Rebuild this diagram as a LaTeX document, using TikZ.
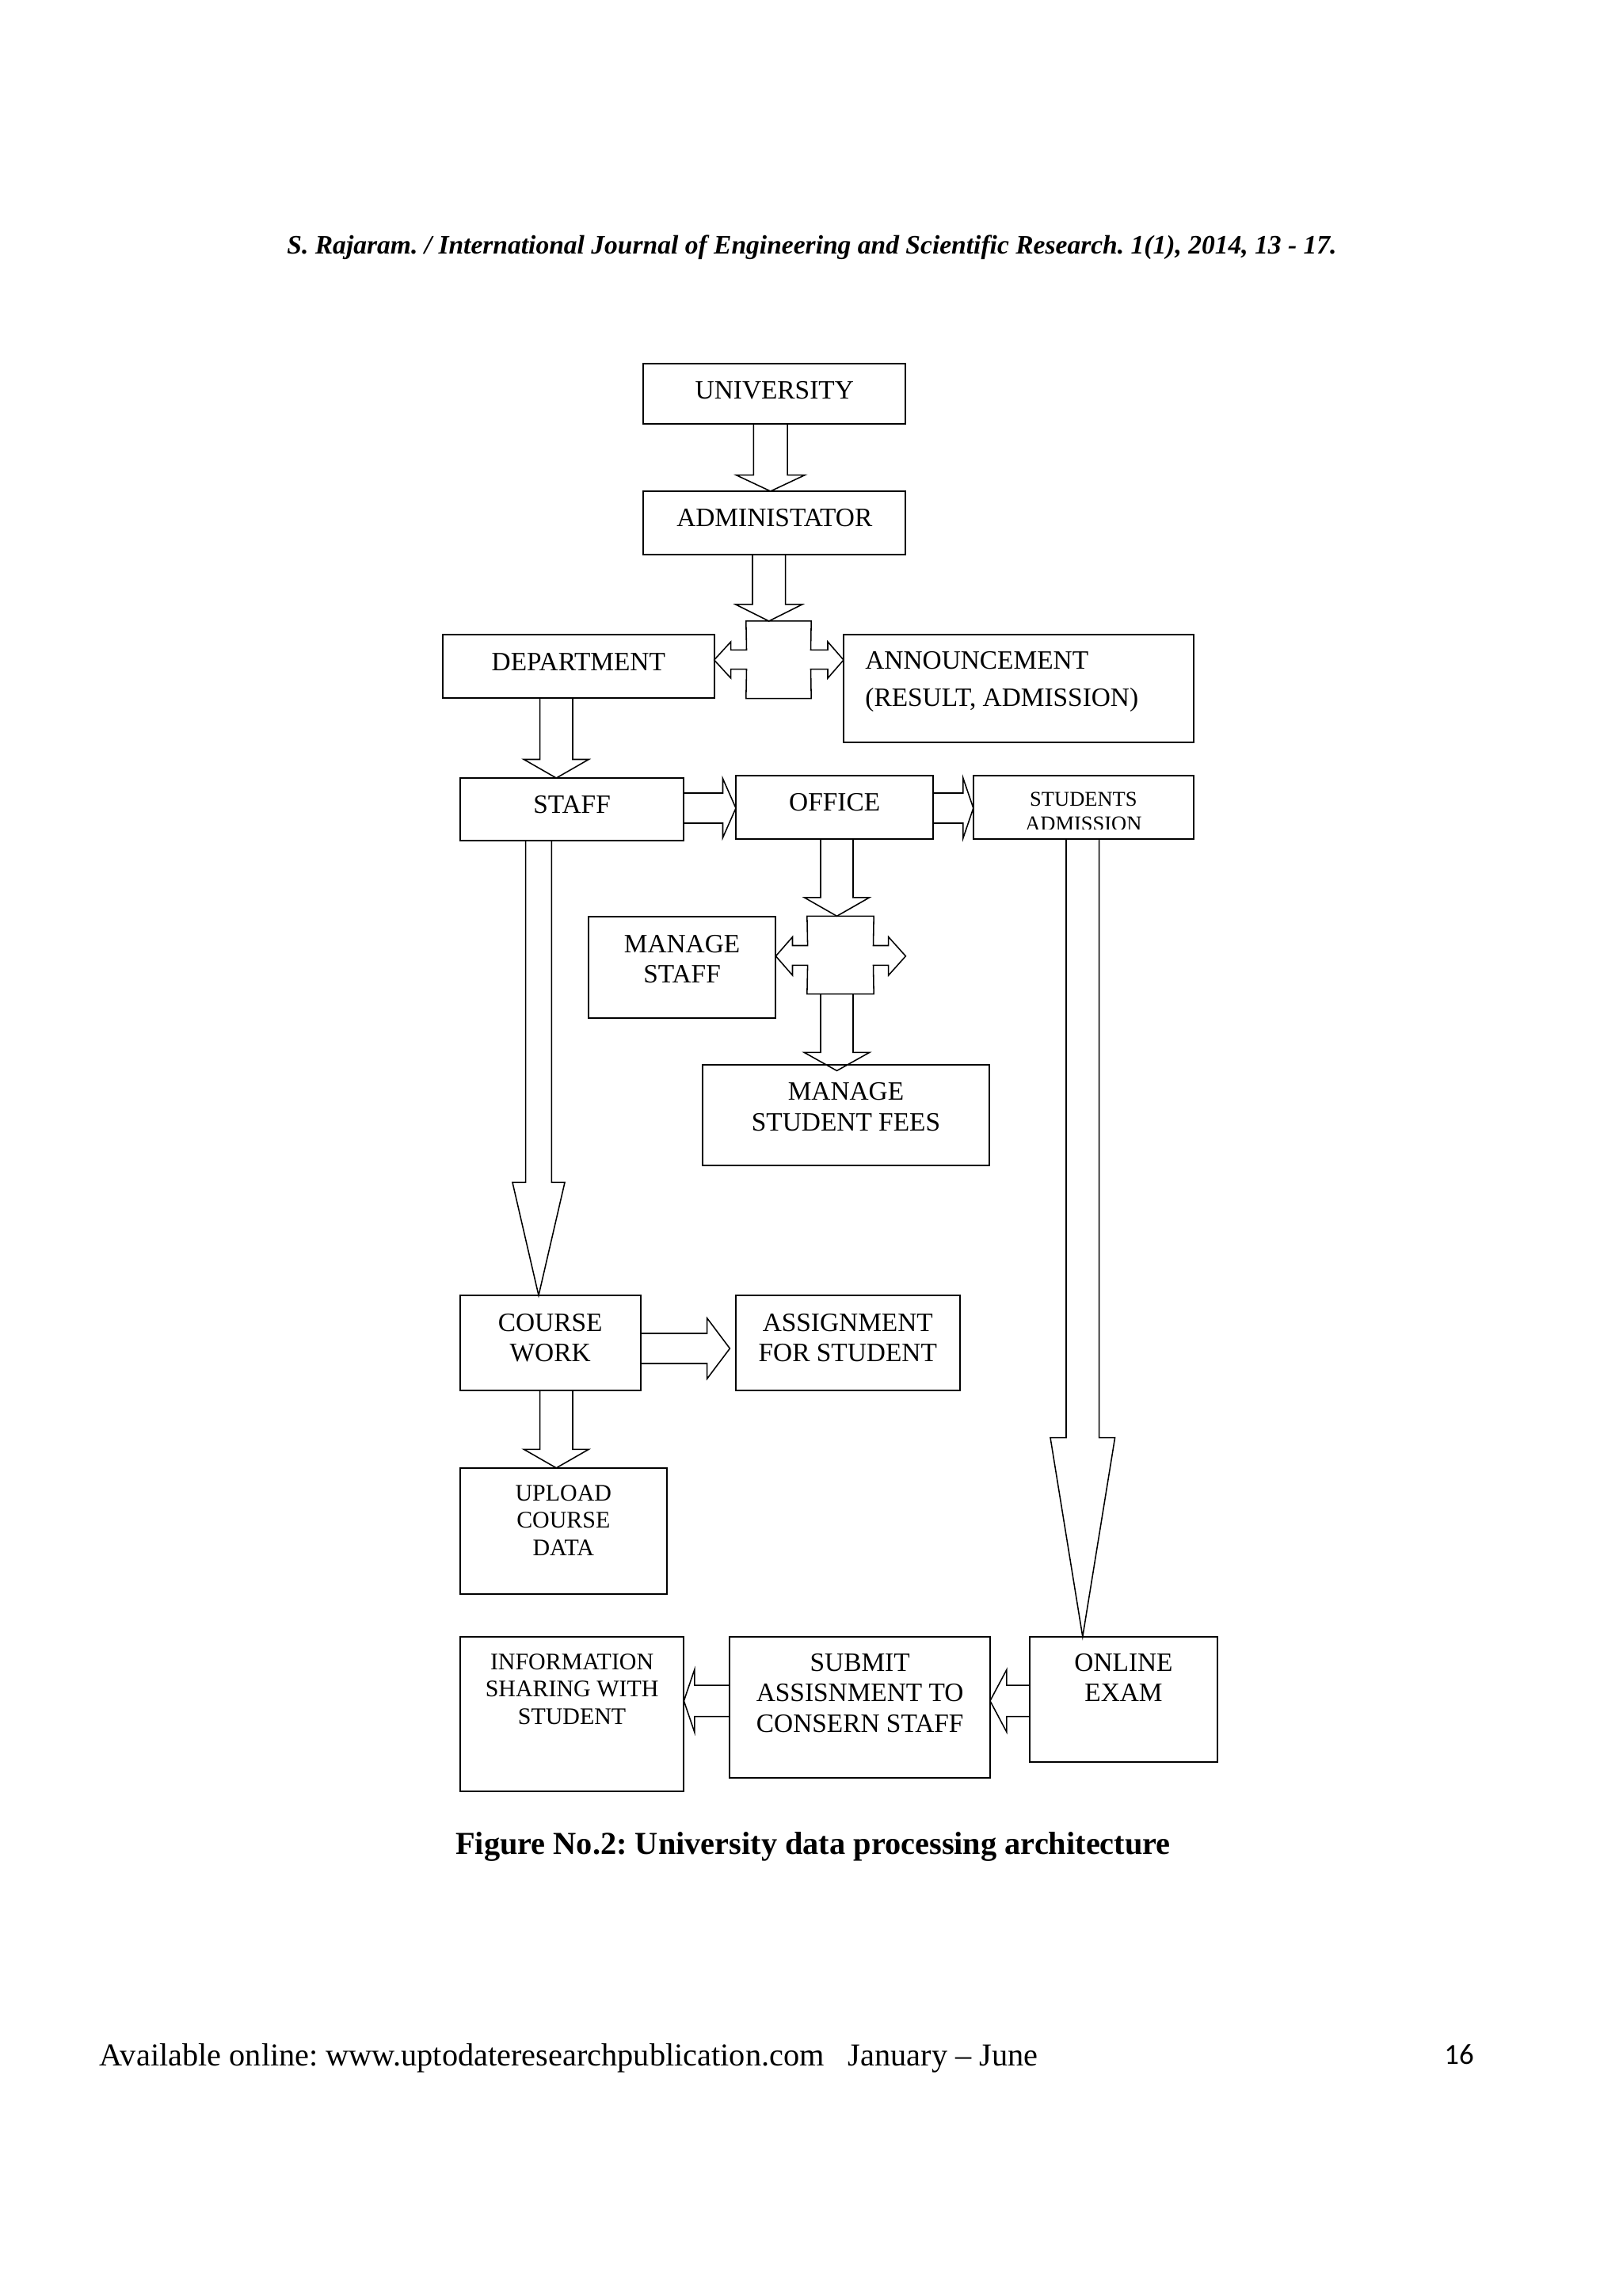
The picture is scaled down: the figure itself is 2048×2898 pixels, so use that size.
\documentclass[tikz,border=0pt]{standalone}
\usepackage{fontspec}
\setmainfont{Liberation Serif}
\newfontfamily\pgnumfont{Carlito}
\usetikzlibrary{positioning, calc}
\frenchspacing

\def\pxu{0.29066pt}

\newcommand{\blkdown}[6]{%
  \draw[blk] (#3-#4,0 |- #1) -- ($(#3-#4,0 |- #2)+(0,-#6)$) -- ($(#3-#5,0 |- #2)+(0,-#6)$)
    -- (#3,0 |- #2) -- ($(#3+#5,0 |- #2)+(0,-#6)$) -- ($(#3+#4,0 |- #2)+(0,-#6)$) -- (#3+#4,0 |- #1);}
\newcommand{\blkright}[6]{%
  \draw[blk] (#1 |- 0,#3-#4) -- ($(#2 |- 0,#3-#4)+(-#6,0)$) -- ($(#2 |- 0,#3-#5)+(-#6,0)$)
    -- (#2 |- 0,#3) -- ($(#2 |- 0,#3+#5)+(-#6,0)$) -- ($(#2 |- 0,#3+#4)+(-#6,0)$) -- (#1 |- 0,#3+#4);}
\newcommand{\blkleft}[6]{%
  \draw[blk] (#1 |- 0,#3-#4) -- ($(#2 |- 0,#3-#4)+(#6,0)$) -- ($(#2 |- 0,#3-#5)+(#6,0)$)
    -- (#2 |- 0,#3) -- ($(#2 |- 0,#3+#5)+(#6,0)$) -- ($(#2 |- 0,#3+#4)+(#6,0)$) -- (#1 |- 0,#3+#4);}

\tikzset{
  box/.style={draw, line width=0.6pt, inner sep=0pt, outer sep=0pt},
  sz/.style 2 args={minimum width=#1*\pxu, minimum height=#2*\pxu},
  txt/.style={align=center, inner sep=0pt, font=\fontsize{9.7}{11.1}\selectfont},
  smalltxt/.style={txt, font=\fontsize{8.7}{10}\selectfont},
  tinytxt/.style={txt, font=\fontsize{7.7}{8.9}\selectfont},
  blk/.style={draw, line width=0.45pt, line join=miter},
}

\begin{document}
\begin{tikzpicture}[x=0.29066pt, y=-0.29066pt]
        \fill[white] (0,0) rectangle (2048,2898);
        \useasboundingbox (0,0) rectangle (2048,2898);

        \node[anchor=base, font=\fontsize{9.75}{11}\selectfont\bfseries\itshape] (hdr) at (1025,320.7)
            {S. Rajaram. / International Journal of Engineering and Scientific Research. 1(1), 2014, 13 - 17.};

        \node[box, sz={331}{76.5}]    (univ)    at (977.8,497)     {};
        \node[box, sz={331}{79.8}]    (admin)   at (977.8,659.9)   {};
        \node[box, sz={342.6}{79.8}]  (dept)    at (730.3,841.1)   {};
        \node[box, sz={442}{135.8}]   (ann)     at (1286,869.1)    {};
        \node[box, sz={282.6}{79.4}]  (staff)   at (722.1,1021.7)  {};
        \node[box, sz={249.4}{80}]    (office)  at (1053.7,1019)   {};
        \node[box, sz={278.2}{80}]    (st_adm)  at (1367.9,1019)   {};
        \node[box, sz={236.6}{127.6}] (m_staff) at (861.1,1220.8)  {};
        \node[box, sz={362}{127.5}]   (m_fees)  at (1068,1407.6)   {};
        \node[box, sz={227.7}{119.5}] (c_work)  at (694.7,1694.8)  {};
        \node[box, sz={282.6}{119.5}] (asg)     at (1070.3,1694.8) {};
        \node[box, sz={260.9}{159.2}] (upl)     at (711.3,1932.4)  {};
        \node[box, sz={282.6}{195.2}] (info)    at (722.1,2163.4)  {};
        \node[box, sz={328.5}{178.5}] (submit)  at (1085.7,2155)   {};
        \node[box, sz={237}{158.2}]   (online)  at (1418.5,2144.9) {};

        \node[inner sep=0pt, sz={81}{96.4}]   (jn_1) at (983,832.8)   {};
        \node[inner sep=0pt, sz={82.9}{97}]   (jn_2) at (1061,1205.5) {};
        \coordinate (mf_tip)  at ([yshift=-7.6*\pxu]m_fees.north);
        \coordinate (asg_tip) at ([xshift=-7.6*\pxu]asg.west);

        \node[txt, below=6.45pt of univ.north]    (univ_t)    {UNIVERSITY};
        \node[txt, below=6.4pt of admin.north]    (admin_t)   {ADMINISTATOR};
        \node[txt, below=6.45pt of dept.north]    (dept_t)    {DEPARTMENT};
        \node[txt, font=\fontsize{9.7}{13.5}\selectfont, align=left,
              below right=6.05pt and 7.76pt of ann.north west] (ann_t) {ANNOUNCEMENT\\(RESULT, ADMISSION)};
        \node[txt, below=6.37pt of staff.north]   (staff_t)   {STAFF};
        \node[txt, below=6.31pt of office.north]  (office_t)  {OFFICE};
        \begin{scope}
            \clip (st_adm.north west) rectangle (st_adm.east |- 0,1046);
            \node[tinytxt, below=6.02pt of st_adm.north] (st_adm_t) {STUDENTS\\ADMISSION};
        \end{scope}
        \node[txt, below=6.48pt of m_staff.north] (m_staff_t) {MANAGE\\STAFF};
        \node[txt, below=6.45pt of m_fees.north]  (m_fees_t)  {MANAGE\\STUDENT FEES};
        \node[txt, below=6.51pt of c_work.north]  (c_work_t)  {COURSE\\WORK};
        \node[txt, below=6.51pt of asg.north]     (asg_t)     {ASSIGNMENT\\FOR STUDENT};
        \node[smalltxt, below=6.16pt of upl.north]  (upl_t)   {UPLOAD\\COURSE\\DATA};
        \node[smalltxt, below=6.16pt of info.north] (info_t)  {INFORMATION\\SHARING WITH\\STUDENT};
        \node[txt, below=6.16pt of submit.north]  (submit_t)  {SUBMIT\\ASSISNMENT TO\\CONSERN STAFF};
        \node[txt, below=6.16pt of online.north]  (online_t)  {ONLINE\\EXAM};

        \blkdown{univ.south}{admin.north}{972.75}{21.35}{43.4}{20.4}
        \blkdown{admin.south}{jn_1.north}{970.8}{20.8}{42}{21}
        \blkdown{dept.south}{staff.north}{702.3}{20.7}{41}{23.5}
        \blkdown{staff.south}{c_work.north}{680}{16.3}{33}{142.6}
        \blkdown{office.south}{jn_2.north}{1056.5}{20.5}{41.1}{23.5}
        \blkdown{jn_2.south}{mf_tip}{1056.5}{20.5}{41.1}{23}
        \blkdown{st_adm.south}{online.north}{1366.8}{20.8}{40.8}{251.3}
        \blkdown{c_work.south}{upl.north}{702.3}{20.7}{41}{23.5}
        \blkright{staff.east}{office.west}{1020}{19}{37.3}{16.5}
        \blkright{office.east}{st_adm.west}{1020}{19}{38.2}{13}
        \blkright{c_work.east}{asg_tip}{1702}{19}{38.2}{28.7}
        \blkleft{online.west}{submit.east}{2146.8}{19.8}{39.5}{21}
        \blkleft{submit.west}{info.east}{2146.8}{19.8}{39.5}{13.4}

        \draw[blk] (jn_1.north west) -- (jn_1.north east) -- (1023.5,820.3) -- (1045,820.3) -- (1045,810)
            -- (ann.west |- 0,833) -- (1045,856) -- (1045,844.6) -- (1023.5,844.6) -- (jn_1.south east)
            -- (jn_1.south west) -- (942.5,844.6) -- (922.7,844.6) -- (922.7,856) -- (dept.east |- 0,833)
            -- (922.7,810) -- (922.7,820.3) -- (942.5,820.3) -- cycle;
        \draw[blk] (jn_2.north west) -- (jn_2.north east) -- (1102.5,1193.5) -- (1121.7,1193.5) -- (1121.7,1182.6)
            -- (1143.4,1206.8) -- (1121.7,1231) -- (1121.7,1218.3) -- (1102.5,1218.3) -- (jn_2.south east)
            -- (jn_2.south west) -- (1019.6,1218.3) -- (1000.5,1218.3) -- (1000.5,1231) -- (m_staff.east |- 0,1206.8)
            -- (1000.5,1182.6) -- (1000.5,1193.5) -- (1019.6,1193.5) -- cycle;

        \node[anchor=base, font=\fontsize{11.73}{14}\selectfont\bfseries] (caption) at (1026.5,2340)
            {Figure No.2: University data processing architecture};
        \node[anchor=base west, font=\fontsize{11.72}{14}\selectfont] (footer) at (113.7,2607)
            {Available online: www.uptodateresearchpublication.com~~~January – June};
        \node[anchor=base, font=\pgnumfont\fontsize{10.7}{13}\selectfont] (pg_no) at (1842,2605) {16};
    \end{tikzpicture}
\end{document}
